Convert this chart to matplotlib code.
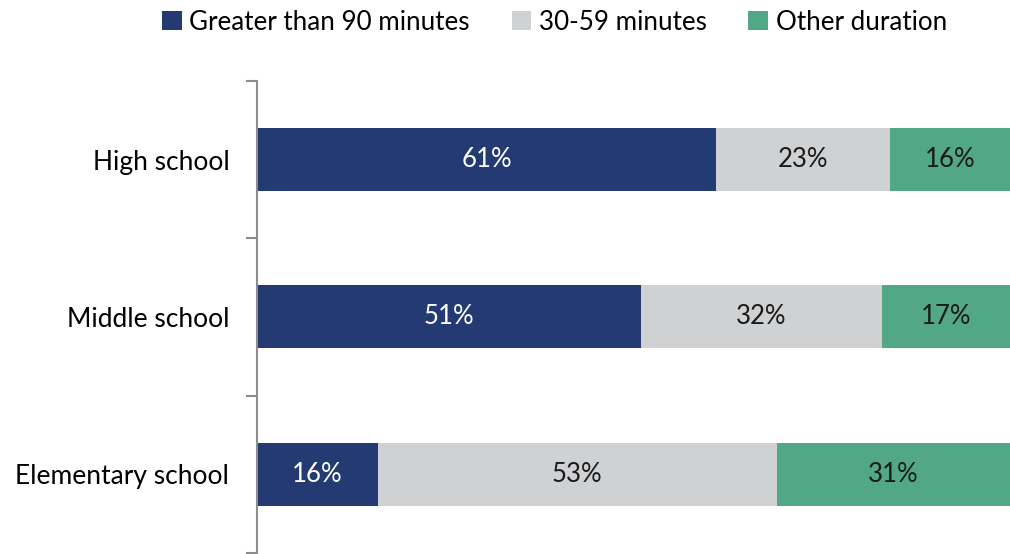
import matplotlib.pyplot as plt
import numpy as np

plt.rcParams['font.family'] = ['Lato', 'DejaVu Sans']

schools = ['High school', 'Middle school', 'Elementary school']
over_90 = [61, 51, 16]
mid_30_59 = [23, 32, 53]
other = [16, 17, 31]

series = [
    ('Greater than 90 minutes', over_90, '#243A73', 'white'),
    ('30-59 minutes', mid_30_59, '#D0D1D3', '#1a1a1a'),
    ('Other duration', other, '#52A886', '#1a1a1a'),
]

fig = plt.figure(figsize=(10.1, 5.54), dpi=100)
ax = fig.add_axes([0.2545, 0.002, 0.7455, 0.852])

y = np.arange(len(schools))
left = np.zeros(len(schools))
for name, vals, color, txt in series:
    vals = np.array(vals, dtype=float)
    bars = ax.barh(y, vals, left=left, height=0.4, color=color, label=name)
    for b, v in zip(bars, vals):
        ax.text(b.get_x() + b.get_width() / 2, b.get_y() + b.get_height() / 2,
                f'{int(v)}%', ha='center', va='center', color=txt, fontsize=18.5)
    left += vals

ax.set_xlim(0, 100)
ax.set_ylim(len(schools) - 0.5, -0.5)
ax.set_yticks(y)
ax.set_yticklabels(schools, fontsize=19)
ax.set_yticks([-0.5, 0.5, 1.5, 2.5], minor=True)
ax.tick_params(axis='y', which='major', length=0, pad=20)
ax.tick_params(axis='y', which='minor', length=8, color='#8c8c8c', width=1.5)
ax.set_xticks([])
for s in ['top', 'right', 'bottom']:
    ax.spines[s].set_visible(False)
ax.spines['left'].set_color('#8c8c8c')
ax.spines['left'].set_linewidth(1.5)

fig.legend(loc='upper center', bbox_to_anchor=(0.549, 1.025), ncol=3, frameon=False,
           fontsize=18.7, handlelength=0.75, handleheight=0.75, handletextpad=0.3,
           columnspacing=1.6)

fig.savefig('out.png', dpi=100)
